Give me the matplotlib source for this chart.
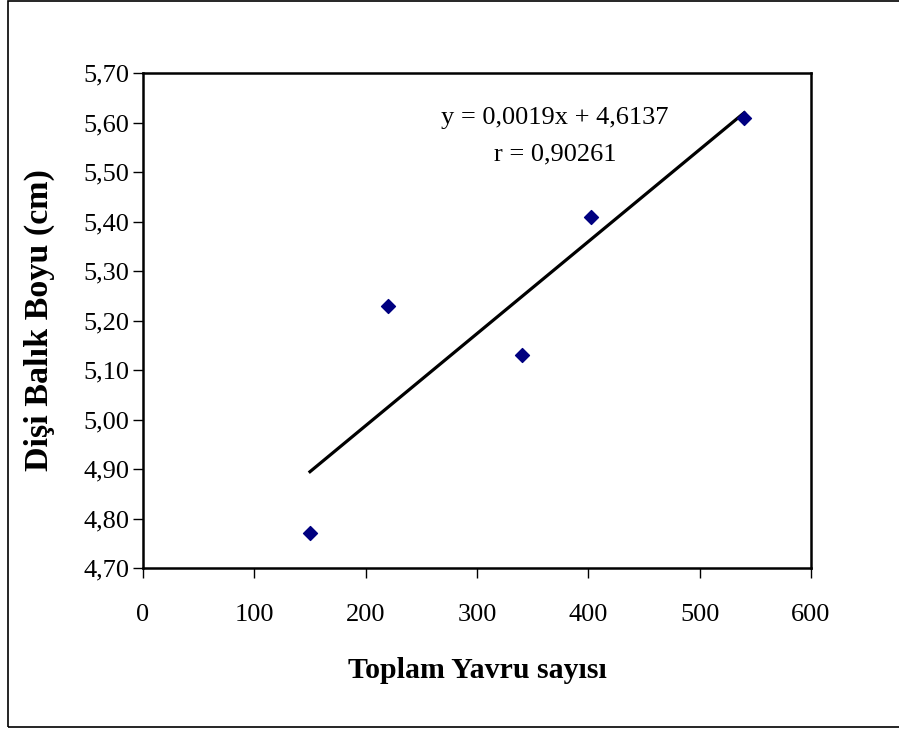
import numpy as np
import matplotlib.pyplot as plt

plt.rcParams['font.family'] = ['Liberation Serif', 'DejaVu Serif']

# data
yavru = [150, 220, 340, 402, 540]
boy = [4.77, 5.23, 5.13, 5.41, 5.61]
equation = 'y = 0,0019x + 4,6137'
r_value = '0,90261'

xticks = [0, 100, 200, 300, 400, 500, 600]
yticks = [4.70, 4.80, 4.90, 5.00, 5.10, 5.20, 5.30, 5.40, 5.50, 5.60, 5.70]

fig = plt.figure(figsize=(8.99, 7.30), dpi=100)
ax = fig.add_axes([143 / 899, 1 - 568 / 730, (811 - 143) / 899, (568 - 73) / 730])

# outer chart frame
fig.patches.append(plt.Rectangle((8 / 899, 3 / 730), 1.2, 1 - 4 / 730, transform=fig.transFigure,
                                 fill=False, edgecolor='black', linewidth=1.2))

ax.scatter(yavru, boy, marker='D', s=50, color='#000080', zorder=3)

# linear trendline
k, b = np.polyfit(yavru, boy, 1)
xl = np.array([min(yavru), max(yavru)])
ax.plot(xl, k * xl + b, color='black', linewidth=2.3)

ax.set_xlim(0, 600)
ax.set_ylim(4.70, 5.70)
ax.set_xticks(xticks)
ax.set_xticklabels([str(t) for t in xticks])
ax.set_yticks(yticks)
ax.set_yticklabels([f'{t:.2f}'.replace('.', ',') for t in yticks])
ax.tick_params(direction='out', length=7, width=1, labelsize=19, pad=3)
ax.tick_params(axis='x', pad=19)
for s in ax.spines.values():
    s.set_linewidth(1.8)

ax.text(370, 5.609, equation, ha='center', va='center', fontsize=19)
ax.text(370, 5.535, 'r = ' + r_value, ha='center', va='center', fontsize=19)

ax.set_xlabel('Toplam Yavru sayısı', fontsize=21.5, fontweight='bold', labelpad=22)
ax.set_ylabel('Dişi Balık Boyu (cm)', fontsize=24.5, fontweight='bold', labelpad=20)

fig.savefig('out.png', dpi=100)
